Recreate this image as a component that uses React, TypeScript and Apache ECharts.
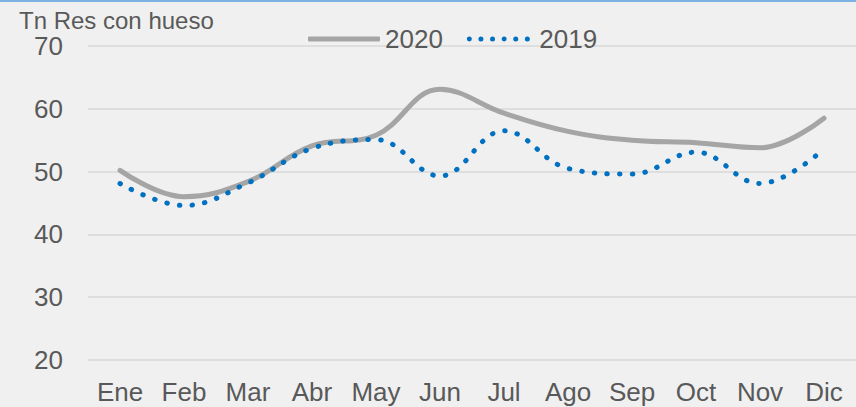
import React, { useEffect, useRef } from "react";
import * as echarts from "echarts";

const months = ["Ene", "Feb", "Mar", "Abr", "May", "Jun", "Jul", "Ago", "Sep", "Oct", "Nov", "Dic"];
const values2020 = [50.2, 46.0, 48.4, 54.1, 55.8, 63.1, 59.3, 56.4, 55.0, 54.6, 53.8, 58.5];
const values2019 = [48.1, 44.6, 48.2, 53.7, 55.1, 49.3, 56.5, 50.5, 49.6, 53.1, 48.1, 53.6];
const yTicks = { min: 20, max: 70, interval: 10 };
const axisTitle = "Tn Res con hueso";

const FONT = "'Liberation Sans', Arial, sans-serif";
const TEXT = "#595959";

function dotsPath(n: number, d: number, gap: number): string {
  const r = d / 2;
  let p = "";
  for (let i = 0; i < n; i++) {
    const cx = r + i * gap;
    p += `M${cx - r},${r}a${r},${r} 0 1,0 ${d},0a${r},${r} 0 1,0 ${-d},0Z`;
  }
  return "path://" + p;
}

export default function App() {
  const ref = useRef<HTMLDivElement>(null);
  useEffect(() => {
    document.body.style.margin = "0";
    const chart = echarts.init(ref.current!, undefined, { renderer: "svg" });
    chart.setOption({
      animation: false,
      backgroundColor: "#f0f0f0",
      textStyle: { fontFamily: FONT },
      title: {
        text: axisTitle,
        left: 19,
        top: 8,
        padding: 0,
        textStyle: { fontFamily: FONT, fontSize: 24, fontWeight: "normal", color: TEXT },
      },
      legend: {
        left: 308,
        top: 26,
        padding: 0,
        itemWidth: 72,
        itemHeight: 5,
        itemGap: 24,
        textStyle: { fontFamily: FONT, fontSize: 26, color: TEXT },
        data: [
          { name: "2020", icon: "roundRect" },
          { name: "2019", icon: dotsPath(6, 5, 11.6) },
        ],
      },
      graphic: [
        {
          type: "rect",
          shape: { x: 0, y: 0, width: 856, height: 2 },
          style: { fill: "#7fb2e4" },
          silent: true,
        },
      ],
      grid: { left: 88, top: 46, width: 776, bottom: 47 },
      xAxis: {
        type: "category",
        data: months,
        boundaryGap: true,
        axisLine: { show: false },
        axisTick: { show: false },
        axisLabel: { fontFamily: FONT, fontSize: 26, color: TEXT, margin: 19, interval: 0 },
      },
      yAxis: {
        type: "value",
        min: yTicks.min,
        max: yTicks.max,
        interval: yTicks.interval,
        axisLine: { show: false },
        axisTick: { show: false },
        axisLabel: { fontFamily: FONT, fontSize: 26, color: TEXT, margin: 25 },
        splitLine: { lineStyle: { color: "#d9d9d9", width: 1.5 } },
      },
      series: [
        {
          name: "2020",
          type: "line",
          data: values2020,
          smooth: 0.4,
          showSymbol: false,
          symbol: "none",
          itemStyle: { color: "#a5a5a5" },
          lineStyle: { color: "#a5a5a5", width: 5, cap: "round", join: "round" },
          z: 2,
        },
        {
          name: "2019",
          type: "line",
          data: values2019,
          smooth: 0.4,
          showSymbol: false,
          symbol: "none",
          itemStyle: { color: "#0070c0" },
          lineStyle: { color: "#0070c0", width: 5, type: [0.5, 12.2], cap: "round" },
          z: 3,
        },
      ],
    });
    return () => chart.dispose();
  }, []);
  return (
    <div
      ref={ref}
      style={{ position: "absolute", left: 0, top: 0, width: 856, height: 407 }}
    />
  );
}
